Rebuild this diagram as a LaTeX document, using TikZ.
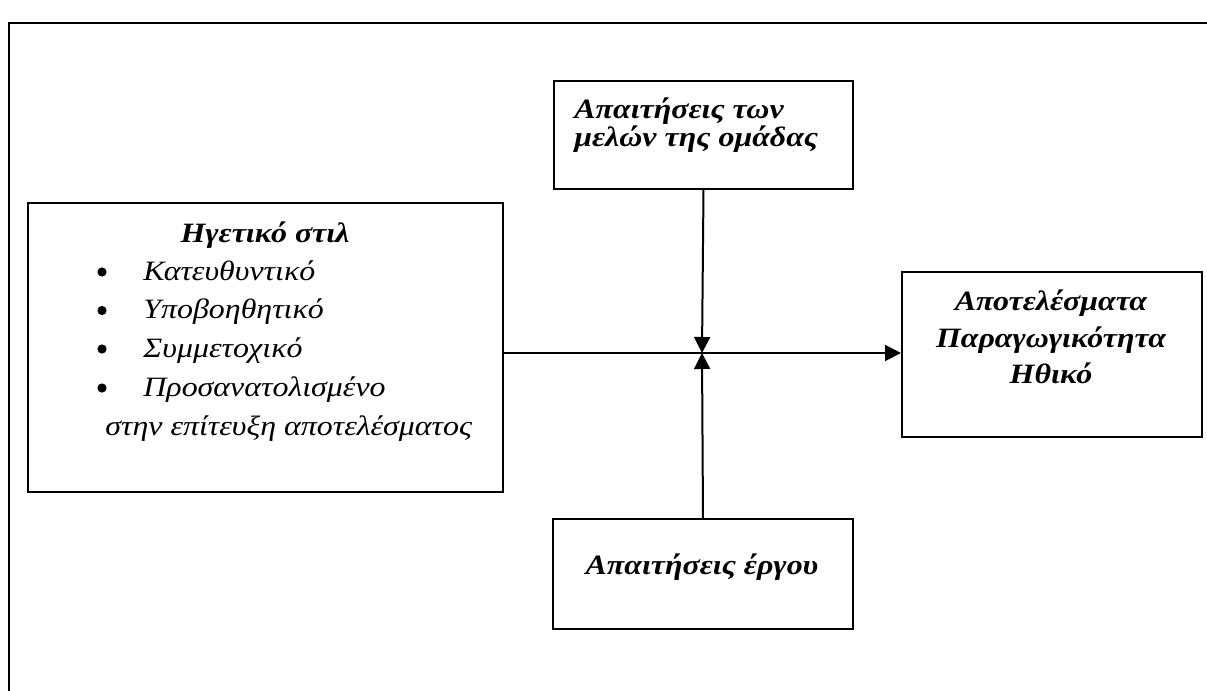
\documentclass[tikz,border=0pt]{standalone}
\usepackage{fontspec}
\setmainfont{Liberation Serif}[FakeStretch=1.14]
\usetikzlibrary{arrows.meta}
\begin{document}
\begin{tikzpicture}[x=0.5pt,y=-0.5pt,
  box/.style={draw, line width=1pt, rectangle, inner sep=0pt, anchor=north west},
  lbl/.style={inner sep=0pt, anchor=base, font=\fontsize{14}{16}\selectfont\bfseries\itshape},
  item/.style={inner sep=0pt, anchor=base west, font=\fontsize{14}{16}\selectfont\itshape},
  dot/.style={circle, fill, inner sep=0pt, minimum size=4.6pt},
  link/.style={line width=1pt, -{Triangle[length=8pt,width=8pt]}}]
\useasboundingbox (0,0) rectangle (1207,691);
\fill[white] (0,0) rectangle (1207,691);

% outer frame (open to the right and bottom)
\draw[line width=1pt] (9,691) -- (9,23) -- (1207,23);

% boxes
\node[box, minimum width=237.5pt, minimum height=144.5pt] (lead) at (27,202) {};
\node[box, minimum width=149.5pt, minimum height=54pt] (team) at (553,80) {};
\node[box, minimum width=150pt, minimum height=55pt] (task) at (552,518) {};
\node[box, minimum width=150pt, minimum height=82.5pt] (res) at (901,271) {};

% leadership style list
\node[lbl] (leadtitle) at (265,242) {Ηγετικό στιλ};
\node[dot] (b1) at (102,272) {};
\node[item] (i1) at (143,280) {Κατευθυντικό};
\node[dot] (b2) at (102,310.5) {};
\node[item] (i2) at (143,318.5) {Υποβοηθητικό};
\node[dot] (b3) at (102,349) {};
\node[item] (i3) at (143,357) {Συμμετοχικό};
\node[dot] (b4) at (102,388) {};
\node[item] (i4) at (143,396) {Προσανατολισμένο};
\node[item] (i5) at (105,435) {στην επίτευξη αποτελέσματος};

% team requirements
\node[lbl, anchor=base west] (team1) at (574,118) {Απαιτήσεις των};
\node[lbl, anchor=base west] (team2) at (574,146) {μελών της ομάδας};

% results
\node[lbl] (res1) at (1051,310) {Αποτελέσματα};
\node[lbl] (res2) at (1051,347) {Παραγωγικότητα};
\node[lbl] (res3) at (1051,383) {Ηθικό};

% task requirements
\node[lbl] (task1) at (702,574) {Απαιτήσεις έργου};

% connectors
\coordinate (hub) at (702,353);
\draw[link] (lead.east |- hub) -- (res.west |- hub);
\draw[link] (team.south) -- (hub);
\draw[link] (task.north) -- (hub);
\end{tikzpicture}
\end{document}
